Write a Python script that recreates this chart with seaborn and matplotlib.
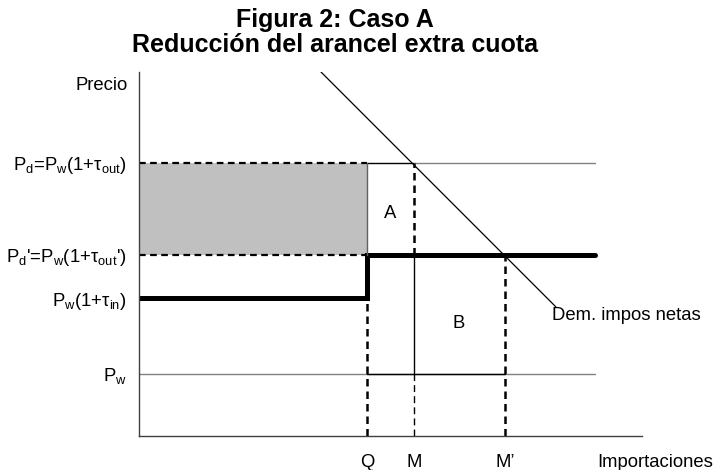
import seaborn as sns
import numpy as np
import matplotlib.pyplot as plt

# price levels (y) and quantity levels (x)
price_labels = [r'P$_\mathrm{d}$=P$_\mathrm{w}$(1+τ$_\mathrm{out}$)',
                r"P$_\mathrm{d}$'=P$_\mathrm{w}$(1+τ$_\mathrm{out}$')",
                r'P$_\mathrm{w}$(1+τ$_\mathrm{in}$)',
                r'P$_\mathrm{w}$']
price_vals = [273, 181, 138, 62]   # Pd, Pd', Pw(1+tin), Pw
qty_labels = ['Q', 'M', 'M’']
qty_vals = [228, 275, 366]
x_end = 456
dem_x = [182, 417]
dem_y = [364, 129]

pd_, pd2, pin, pw = price_vals
q, m, m2 = qty_vals

sns.set_style('white')
plt.rcParams['font.family'] = ['Liberation Sans', 'DejaVu Sans']
plt.rcParams['mathtext.fontset'] = 'custom'
plt.rcParams['mathtext.rm'] = 'Liberation Sans'
plt.rcParams['mathtext.it'] = 'Liberation Sans:italic'
plt.rcParams['text.color'] = 'black'
plt.rcParams['xtick.color'] = 'black'
plt.rcParams['ytick.color'] = 'black'
plt.rcParams['xtick.labelcolor'] = 'black'
plt.rcParams['ytick.labelcolor'] = 'black'

fig = plt.figure(figsize=(7.17, 4.70), dpi=100)
ax = fig.add_axes([139/717, 34/470, 503/717, 364/470])

dash = (0, (3, 2))
# shaded rent area
ax.fill_between([0, q], pd2, pd_, color='#c0c0c0', lw=0)

# horizontal lines
ax.plot([0, q], [pd_, pd_], color='black', lw=1.6, ls=dash)
ax.plot([q, m], [pd_, pd_], color='black', lw=1)
ax.plot([m, x_end], [pd_, pd_], color='#808080', lw=1)
ax.plot([0, q], [pd2, pd2], color='black', lw=1.6, ls=dash)
ax.plot([0, q, q, x_end], [pin, pin, pd2, pd2], color='black', lw=3.6,
        solid_joinstyle='miter')
ax.plot([0, x_end], [pw, pw], color='#808080', lw=1)
ax.plot([q, m2], [pw, pw], color='black', lw=1)

# vertical lines
ax.plot([q, q], [pd2, pd_], color='#606060', lw=1)
ax.plot([q, q], [0, pin], color='black', lw=1.8, ls=dash)
ax.plot([m, m], [pd2, pd_], color='black', lw=1.8, ls=dash)
ax.plot([m, m], [pw, pd2], color='black', lw=1)
ax.plot([m, m], [0, pw], color='black', lw=1, ls=(0, (5, 3)))
ax.plot([m2, m2], [0, pd2], color='black', lw=1.8, ls=dash)

# net import demand
sns.lineplot(x=dem_x, y=dem_y, color='black', lw=0.9, ax=ax)

fs = 13.3
ax.text(251, 223, 'A', ha='center', va='center', fontsize=fs)
ax.text(320, 113, 'B', ha='center', va='center', fontsize=fs)
ax.text(413, 121, 'Dem. impos netas', ha='left', va='center', fontsize=fs)
ax.text(-11, 351, 'Precio', ha='right', va='center', fontsize=fs, clip_on=False)
ax.annotate('Importaciones', xy=(458, 0), xytext=(0, -19), textcoords='offset points',
            ha='left', va='center', fontsize=fs, annotation_clip=False)

ax.set_xlim(0, 503)
ax.set_ylim(0, 364)
ax.set_yticks(price_vals, price_labels, fontsize=fs)
ax.set_xticks(qty_vals, qty_labels, fontsize=fs)
ax.tick_params(length=0)
ax.tick_params(axis='y', pad=9)
ax.tick_params(axis='x', pad=13)
for s in ['top', 'right']:
    ax.spines[s].set_visible(False)
for s in ['left', 'bottom']:
    ax.spines[s].set_color('#404040')
    ax.spines[s].set_linewidth(1)

fig.text(335/717, 1 - 8/470, 'Figura 2: Caso A\nReducción del arancel extra cuota',
         ha='center', va='top', fontsize=18, fontweight='bold', linespacing=1.05)

fig.savefig('out.png', dpi=100)
